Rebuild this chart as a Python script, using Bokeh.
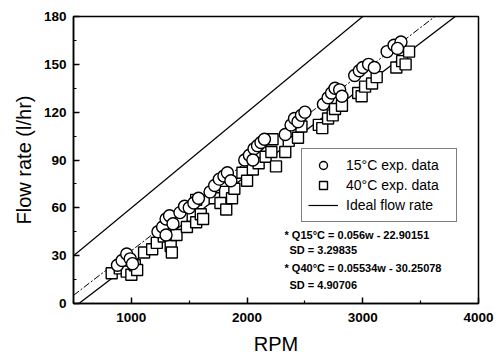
from bokeh.plotting import figure
from bokeh.models import FixedTicker, Legend, LegendItem, Label
from bokeh.embed import file_html
from bokeh.resources import INLINE

# ---- data ----
rpm_15 = [880, 920, 960, 990, 1010,
          1230, 1270, 1300, 1330, 1360, 1300,
          1420, 1460, 1500, 1540, 1580,
          1680, 1720, 1760, 1800, 1830, 1860,
          1980, 2020, 2060, 2090, 2120, 2150, 2050,
          2330, 2380, 2410, 2440, 2470, 2500,
          2660, 2700, 2730, 2760, 2800, 2820,
          2930, 2970, 3000, 3050, 3100,
          3210, 3270, 3330, 3300]
flow_15 = [24, 27, 31, 28, 25,
           45, 48, 53, 55, 50, 43,
           57, 61, 60, 63, 66,
           70, 74, 78, 80, 82, 77,
           90, 93, 97, 99, 101, 103, 90,
           106, 112, 116, 114, 118, 120,
           125, 129, 132, 135, 134, 130,
           143, 146, 148, 150, 148,
           158, 162, 164, 160]

rpm_40 = [830, 900, 960, 1000, 1030, 1050,
          1110, 1180, 1220, 1280, 1340, 1350, 1390,
          1480, 1530, 1560, 1600, 1620, 1560,
          1720, 1770, 1810, 1820, 1870, 1890,
          1960, 2000, 2050, 2100, 2160, 2210, 2250, 2220,
          2330, 2360, 2400, 2440, 2470,
          2620, 2650, 2700, 2740, 2760, 2820,
          2960, 2990, 3020, 3080, 3120,
          3290, 3340, 3370, 3400]
flow_40 = [19, 22, 20, 18, 24, 21,
           32, 34, 38, 42, 36, 32, 43,
           48, 55, 51, 56, 53, 65,
           66, 63, 70, 59, 66, 72,
           82, 77, 84, 88, 92, 95, 86, 103,
           95, 102, 108, 104, 111,
           112, 110, 116, 118, 122, 124,
           132, 130, 136, 138, 142,
           148, 152, 150, 158]

x_ticks = [1000, 2000, 3000, 4000]
x_minor = [500, 1500, 2500, 3500]
y_ticks = [0, 30, 60, 90, 120, 150, 180]
y_minor = [15, 45, 75, 105, 135, 165]

fit15_slope, fit15_icpt = 0.056, -22.90151
fit40_slope, fit40_icpt = 0.05534, -30.25078
ideal_slope = 0.06

labels_legend = ["15°C exp. data", "40°C exp. data", "Ideal flow rate"]
notes = ["* Q15°C = 0.056w - 22.90151", "SD = 3.29835",
         "* Q40°C = 0.05534w - 30.25078", "SD = 4.90706"]

x_lo, x_hi = 500, 4000
y_lo, y_hi = 0, 180

FONT = "Liberation Sans"

p = figure(frame_width=405, frame_height=287,
           x_range=(x_lo, x_hi), y_range=(y_lo, y_hi),
           output_backend="svg", toolbar_location=None,
           min_border_left=73, min_border_right=18,
           min_border_top=16, min_border_bottom=55,
           background_fill_color="white", border_fill_color="white")

p.grid.visible = False
p.outline_line_color = "black"
p.outline_line_width = 1.5

# lines (regression / ideal)
ideal_x = [x_lo, y_hi / ideal_slope]
ideal_y = [ideal_slope * v for v in ideal_x]
r_ideal = p.line(ideal_x, ideal_y, line_color="black", line_width=1.2)

f15_x = [x_lo, (y_hi - fit15_icpt) / fit15_slope]
f15_y = [fit15_slope * v + fit15_icpt for v in f15_x]
p.line(f15_x, f15_y, line_color="black", line_width=1, line_dash="7 2 2 2")

f40_x = [(y_lo - fit40_icpt) / fit40_slope, (y_hi - fit40_icpt) / fit40_slope]
f40_y = [fit40_slope * v + fit40_icpt for v in f40_x]
p.line(f40_x, f40_y, line_color="black", line_width=1.3)

r_sq = p.scatter(rpm_40, flow_40, marker="square", size=11,
                 fill_color="white", line_color="black", line_width=1.4)
r_ci = p.scatter(rpm_15, flow_15, marker="circle", size=12,
                 fill_color="white", line_color="black", line_width=1.4)

# axes
for ax in (p.xaxis[0], p.yaxis[0]):
    ax.axis_line_width = 1.5
    ax.major_tick_in = 6
    ax.major_tick_out = 0
    ax.minor_tick_in = 3
    ax.minor_tick_out = 0
    ax.major_tick_line_width = 1.5
    ax.minor_tick_line_width = 1.2
    ax.major_label_text_font = FONT
    ax.major_label_text_font_style = "bold"
    ax.major_label_text_font_size = "13.5px"
    ax.major_label_text_color = "black"
    ax.axis_label_text_font = FONT
    ax.axis_label_text_font_style = "normal"
    ax.axis_label_text_font_size = "20px"
    ax.axis_label_text_color = "black"

p.xaxis.ticker = FixedTicker(ticks=x_ticks, minor_ticks=x_minor)
p.yaxis.ticker = FixedTicker(ticks=y_ticks, minor_ticks=y_minor)
p.xaxis.axis_label = "RPM"
p.yaxis.axis_label = "Flow rate (l/hr)"
p.xaxis.major_label_standoff = 9
p.xaxis.axis_label_standoff = 8
p.yaxis.major_label_standoff = 7
p.yaxis.axis_label_standoff = 6

legend = Legend(items=[LegendItem(label=labels_legend[0], renderers=[r_ci]),
                       LegendItem(label=labels_legend[1], renderers=[r_sq]),
                       LegendItem(label=labels_legend[2], renderers=[r_ideal])],
                location=(228, 81), margin=0, padding=6, spacing=0,
                glyph_width=30, glyph_height=20, label_height=20,
                label_width=104, label_standoff=8,
                label_text_font=FONT, label_text_font_size="14px",
                label_text_color="black",
                border_line_color="black", border_line_width=1.5,
                background_fill_color="white", background_fill_alpha=1.0)
p.add_layout(legend)

note_x = [211, 216, 211, 216]
note_y = [69, 54, 36, 19]
for t, nx, ny in zip(notes, note_x, note_y):
    p.add_layout(Label(x=nx, y=ny, x_units="screen", y_units="screen", text=t,
                       text_font=FONT, text_font_style="bold",
                       text_font_size="11px", text_baseline="middle",
                       text_color="black"))

open("out.html", "w").write(file_html(p, INLINE))
